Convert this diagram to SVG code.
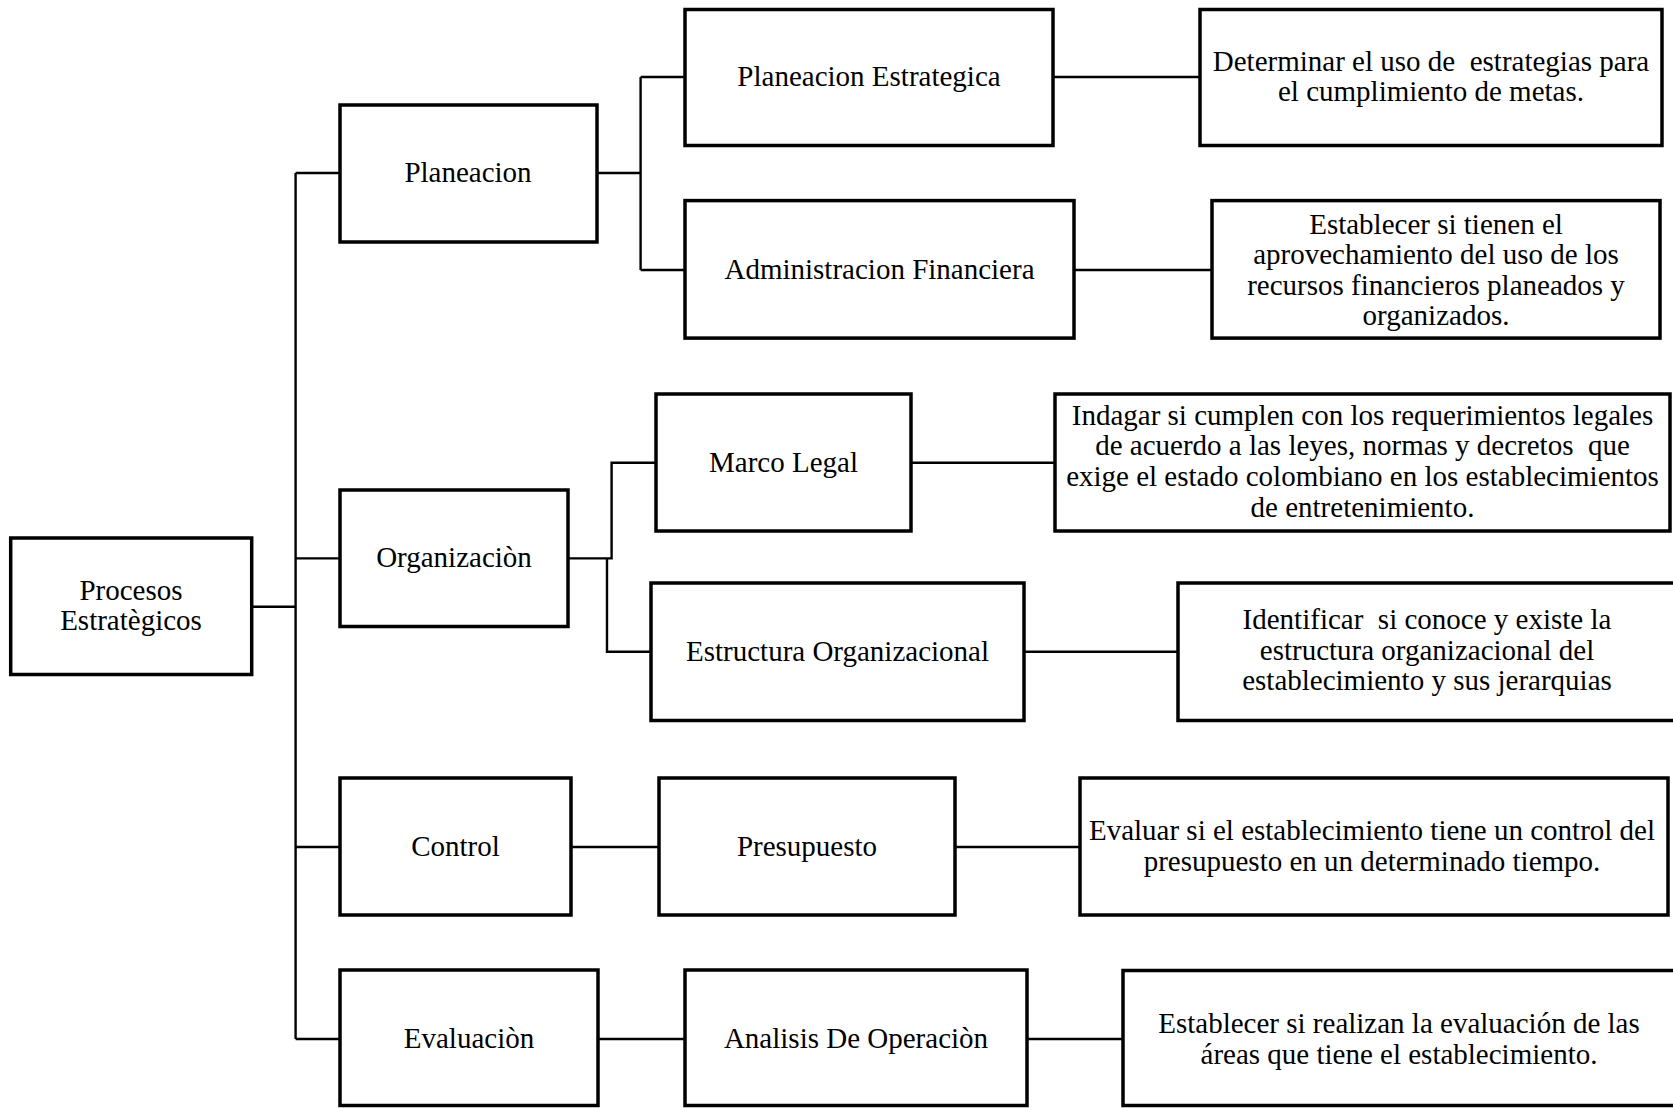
<svg xmlns="http://www.w3.org/2000/svg" width="1673" height="1108" viewBox="0 0 1673 1108">
<style>
.box{fill:#fff;stroke:#000;stroke-width:3.5}
.c{fill:none;stroke:#000;stroke-width:2.4}
text{font-family:"Liberation Serif","Times New Roman",serif;font-size:29px;fill:#000;text-anchor:middle;white-space:pre}
</style>
<rect width="1673" height="1108" fill="#fff"/>
<g id="connectors">
<path class="c" d="M252 606.7H295.6M295.6 173V1039M295.6 173H340M295.6 558.4H340M295.6 847H340M295.6 1039H340"/>
<path class="c" d="M597 173H640.6M640.6 77V270M640.6 77H685M640.6 270H685"/>
<path class="c" d="M1053 77H1200M1074 270H1212"/>
<path class="c" d="M568 558.4H611.6V462.7H656M607 558.4V651.8H651"/>
<path class="c" d="M911 462.7H1055M1024 651.7H1178"/>
<path class="c" d="M571 847H659M955 847H1080"/>
<path class="c" d="M598 1039H685M1027 1039H1123"/>
</g>
<g id="procesos"><rect class="box" x="10.7" y="538" width="241" height="136.5"/><text x="131" y="600">Procesos</text><text x="131" y="630">Estratègicos</text></g>
<g id="planeacion"><rect class="box" x="340" y="105" width="257" height="137"/><text x="468" y="182">Planeacion</text></g>
<g id="organizacion"><rect class="box" x="340" y="490" width="228" height="136.5"/><text x="454" y="567">Organizaciòn</text></g>
<g id="control"><rect class="box" x="340" y="778" width="231" height="137"/><text x="455.5" y="856">Control</text></g>
<g id="evaluacion"><rect class="box" x="340" y="970" width="258" height="135.5"/><text x="469" y="1048">Evaluaciòn</text></g>
<g id="planeacion-estrategica"><rect class="box" x="685" y="9.5" width="368" height="136"/><text x="869" y="86">Planeacion Estrategica</text></g>
<g id="administracion-financiera"><rect class="box" x="685" y="200.6" width="389" height="137.5"/><text x="879.5" y="279">Administracion Financiera</text></g>
<g id="marco-legal"><rect class="box" x="656" y="394" width="255" height="137"/><text x="783.5" y="472">Marco Legal</text></g>
<g id="estructura-organizacional"><rect class="box" x="651" y="583" width="373" height="137.5"/><text x="837.5" y="661">Estructura Organizacional</text></g>
<g id="presupuesto"><rect class="box" x="659" y="778" width="296" height="137"/><text x="807" y="856">Presupuesto</text></g>
<g id="analisis-de-operacion"><rect class="box" x="685" y="970" width="342" height="135.5"/><text x="856" y="1048">Analisis De Operaciòn</text></g>
<g id="determinar"><rect class="box" x="1200" y="9.5" width="462" height="136"/><text x="1431" y="71">Determinar el uso de  estrategias para</text><text x="1431" y="101">el cumplimiento de metas.</text></g>
<g id="establecer-financieros"><rect class="box" x="1212" y="200.6" width="448" height="137.5"/><text x="1436" y="234">Establecer si tienen el</text><text x="1436" y="264">aprovechamiento del uso de los</text><text x="1436" y="295">recursos financieros planeados y</text><text x="1436" y="325">organizados.</text></g>
<g id="indagar"><rect class="box" x="1055" y="394" width="615" height="137"/><text x="1362.5" y="425">Indagar si cumplen con los requerimientos legales</text><text x="1362.5" y="455">de acuerdo a las leyes, normas y decretos  que</text><text x="1362.5" y="486">exige el estado colombiano en los establecimientos</text><text x="1362.5" y="517">de entretenimiento.</text></g>
<g id="identificar"><rect class="box" x="1178" y="583" width="500" height="137.5"/><text x="1427" y="629">Identificar  si conoce y existe la</text><text x="1427" y="660">estructura organizacional del</text><text x="1427" y="690">establecimiento y sus jerarquias</text></g>
<g id="evaluar"><rect class="box" x="1080" y="778" width="588" height="137"/><text x="1372" y="840">Evaluar si el establecimiento tiene un control del</text><text x="1372" y="871">presupuesto en un determinado tiempo.</text></g>
<g id="establecer-areas"><rect class="box" x="1123" y="970.5" width="555" height="135"/><text x="1399" y="1033">Establecer si realizan la evaluación de las</text><text x="1399" y="1064">áreas que tiene el establecimiento.</text></g>
</svg>
